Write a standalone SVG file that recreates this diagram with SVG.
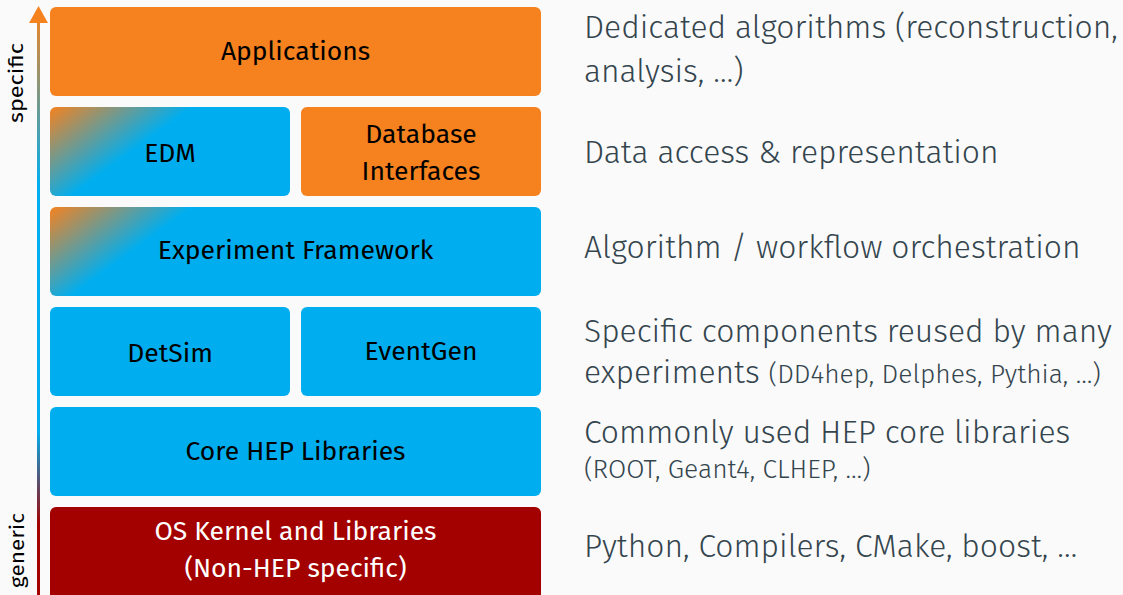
<svg xmlns="http://www.w3.org/2000/svg" width="1123" height="595" viewBox="0 0 1123 595">
<style>
.box{stroke:none}
.lbl{font-family:"Fira Sans","Open Sans","Noto Sans",sans-serif;font-size:26.5px;fill:#000;text-anchor:middle}
.lblw{font-family:"Fira Sans","Open Sans","Noto Sans",sans-serif;font-size:26.5px;fill:#fff;text-anchor:middle}
.desc{font-family:"Fira Sans","Open Sans","Noto Sans",sans-serif;font-weight:300;font-size:31.8px;fill:#34454e}
.small{font-size:26.4px}
.axis{font-family:"Fira Sans","Open Sans","Noto Sans",sans-serif;font-size:21px;fill:#000;text-anchor:middle}
</style>
<defs>
<linearGradient id="arrowGrad" gradientUnits="userSpaceOnUse" x1="0" y1="10" x2="0" y2="595">
<stop offset="0" stop-color="#f5821f"/>
<stop offset="0.3" stop-color="#00aeef"/>
<stop offset="0.72" stop-color="#00aeef"/>
<stop offset="0.88" stop-color="#a30000"/>
<stop offset="1" stop-color="#a30000"/>
</linearGradient>
<linearGradient id="gEDM" gradientUnits="userSpaceOnUse" x1="50" y1="107" x2="100" y2="175">
<stop offset="0" stop-color="#f5821f"/>
<stop offset="1" stop-color="#00aeef"/>
</linearGradient>
<linearGradient id="gFW" gradientUnits="userSpaceOnUse" x1="50" y1="207" x2="100" y2="275">
<stop offset="0" stop-color="#f5821f"/>
<stop offset="1" stop-color="#00aeef"/>
</linearGradient>
</defs>
<rect x="0" y="0" width="1123" height="595" fill="#fafafa"/>
<g id="connectors">
<rect x="37" y="20" width="3" height="575" fill="url(#arrowGrad)"/>
<polygon points="29,23 38.5,6 48,23" fill="#f5821f"/>
</g>
<text class="axis" transform="translate(23,83) rotate(-90)" textLength="80" lengthAdjust="spacingAndGlyphs">specific</text>
<text class="axis" transform="translate(24,550.5) rotate(-90)" textLength="75" lengthAdjust="spacingAndGlyphs">generic</text>
<g id="applications">
<rect class="box" x="50" y="7" width="491" height="89" rx="6" fill="#f5821f"/>
<text class="lbl" x="295.5" y="60">Applications</text>
</g>
<g id="edm">
<rect class="box" x="50" y="107" width="240" height="89" rx="6" fill="url(#gEDM)"/>
<text class="lbl" x="170" y="162">EDM</text>
</g>
<g id="database">
<rect class="box" x="301" y="107" width="240" height="89" rx="6" fill="#f5821f"/>
<text class="lbl" x="421" y="143">Database</text>
<text class="lbl" x="421" y="180">Interfaces</text>
</g>
<g id="framework">
<rect class="box" x="50" y="207" width="491" height="89" rx="6" fill="url(#gFW)"/>
<text class="lbl" x="295.5" y="259">Experiment Framework</text>
</g>
<g id="detsim">
<rect class="box" x="50" y="307" width="240" height="89" rx="6" fill="#00aeef"/>
<text class="lbl" x="170" y="362">DetSim</text>
</g>
<g id="eventgen">
<rect class="box" x="301" y="307" width="240" height="89" rx="6" fill="#00aeef"/>
<text class="lbl" x="421" y="360">EventGen</text>
</g>
<g id="core">
<rect class="box" x="50" y="407" width="491" height="89" rx="6" fill="#00aeef"/>
<text class="lbl" x="295.5" y="460">Core HEP Libraries</text>
</g>
<g id="os">
<rect class="box" x="50" y="507" width="491" height="95" rx="6" fill="#a30000"/>
<text class="lblw" x="295.5" y="540">OS Kernel and Libraries</text>
<text class="lblw" x="295.5" y="577">(Non-HEP specific)</text>
</g>
<g id="descriptions">
<text class="desc" x="584" y="38">Dedicated algorithms (reconstruction,</text>
<text class="desc" x="584" y="82">analysis, …)</text>
<text class="desc" x="584" y="163">Data access &amp; representation</text>
<text class="desc" x="584" y="258">Algorithm / workflow orchestration</text>
<text class="desc" x="584" y="342">Specific components reused by many</text>
<text class="desc" x="584" y="383">experiments <tspan class="small">(DD4hep, Delphes, Pythia, …)</tspan></text>
<text class="desc" x="584" y="443">Commonly used HEP core libraries</text>
<text class="desc small" x="584" y="478">(ROOT, Geant4, CLHEP, …)</text>
<text class="desc" x="584" y="557">Python, Compilers, CMake, boost, …</text>
</g>
</svg>
